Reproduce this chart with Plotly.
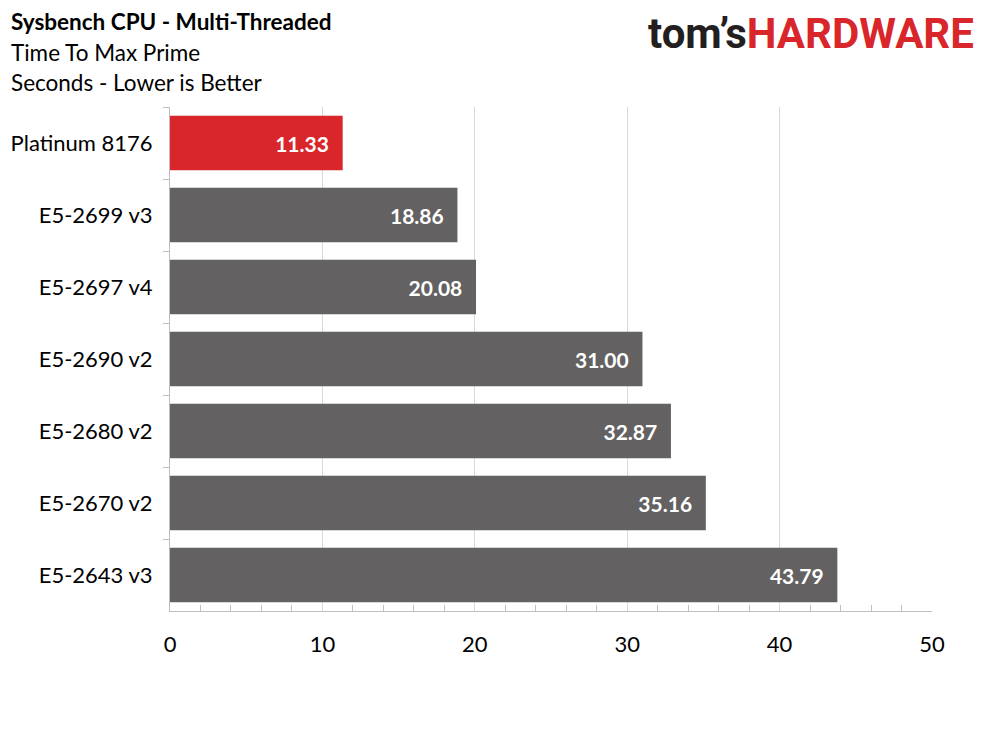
import plotly.graph_objects as go

# datos
cpus = ["Platinum 8176", "E5-2699 v3", "E5-2697 v4", "E5-2690 v2",
        "E5-2680 v2", "E5-2670 v2", "E5-2643 v3"]
segundos = [11.33, 18.86, 20.08, 31.00, 32.87, 35.16, 43.79]
colores = ["#d9262b"] + ["#636161"] * 6

fuente = "Lato, 'Noto Sans', sans-serif"

fig = go.Figure()
fig.add_trace(go.Bar(
    x=segundos, y=cpus, orientation="h",
    marker=dict(color=colores, line=dict(width=0)),
    texttemplate="<b>%{x:.2f}</b>&nbsp;&nbsp;", textposition="inside",
    insidetextanchor="end", textangle=0,
    textfont=dict(color="white", size=21, family=fuente),
    hoverinfo="skip",
))

# ejes
fig.update_xaxes(range=[0, 50], dtick=10, showgrid=True, gridcolor="#d9d9d9",
                 gridwidth=1, zeroline=False, showline=True, linecolor="#bfbfbf",
                 ticks="", ticklabelstandoff=14, automargin=False,
                 minor=dict(dtick=2, ticks="inside", ticklen=6, tickcolor="#bfbfbf",
                            showgrid=False),
                 tickfont=dict(size=22, color="#000000", family=fuente))
fig.update_yaxes(autorange="reversed", showline=True, linecolor="#bfbfbf",
                 ticks="outside", tickson="boundaries", ticklen=6, tickcolor="#bfbfbf",
                 ticklabelstandoff=12, showgrid=False, automargin=False,
                 tickfont=dict(size=22, color="#000000", family=fuente))

# titulos
fig.add_annotation(xref="paper", yref="paper", x=-0.211, y=1.169, xanchor="left", yanchor="middle",
                   text="<b>Sysbench CPU - Multi-Threaded</b>", showarrow=False,
                   font=dict(size=22.5, color="#000000", family=fuente))
fig.add_annotation(xref="paper", yref="paper", x=-0.211, y=1.109, xanchor="left", yanchor="middle",
                   text="Time To Max Prime", showarrow=False,
                   font=dict(size=22.5, color="#000000", family=fuente))
fig.add_annotation(xref="paper", yref="paper", x=-0.211, y=1.048, xanchor="left", yanchor="middle",
                   text="Seconds - Lower is Better", showarrow=False,
                   font=dict(size=22.5, color="#000000", family=fuente))

# logo
fig.add_annotation(xref="paper", yref="paper", x=1.056, y=1.196, xanchor="right", yanchor="top",
                   text="<span style='color:#231f20'>tom’s</span><span style='color:#d9262b'>HARDWARE</span>",
                   showarrow=False, borderpad=0,
                   font=dict(size=42, family="Roboto, sans-serif", weight="bold"))

# la pagina tiene 8px de margen, por eso la figura es un poco mas chica
fig.update_layout(width=982, height=734, bargap=0.24, showlegend=False,
                  plot_bgcolor="white", paper_bgcolor="white",
                  margin=dict(l=162, r=58, t=99, b=131),
                  font=dict(family=fuente))

fig.write_html("out.html")
